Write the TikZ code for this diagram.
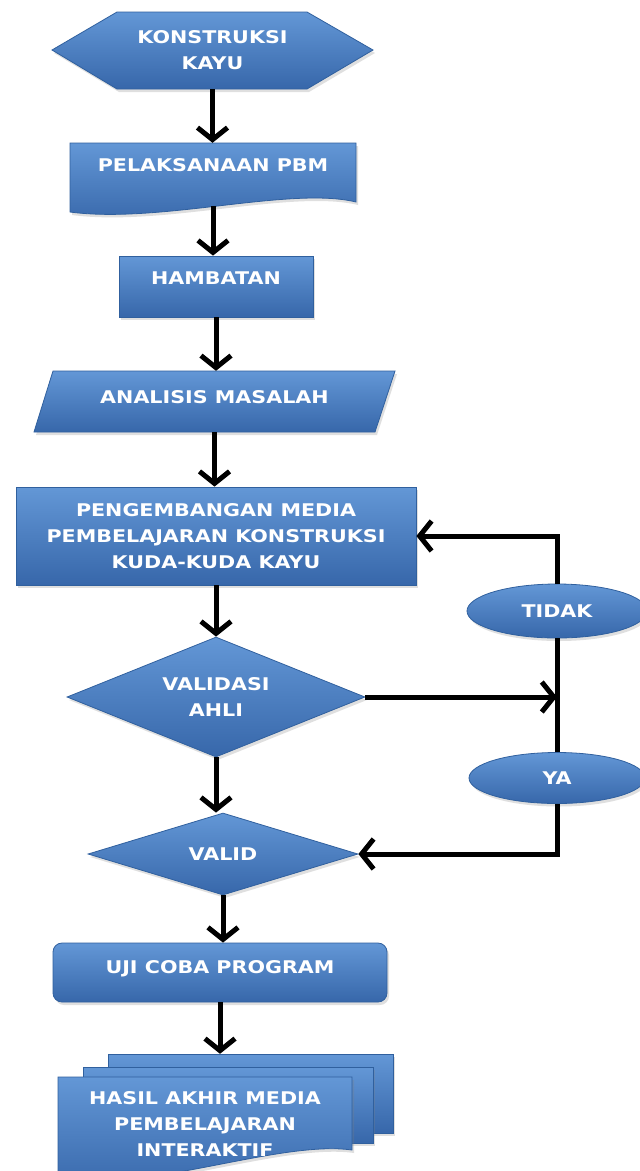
\documentclass[tikz,border=0pt]{standalone}
\usepackage{fontspec}
\newfontfamily\lblfont[FakeStretch=1.18]{DejaVu Sans}
\usetikzlibrary{arrows.meta,shapes.geometric,shadows}
\definecolor{blokatas}{HTML}{6397D6}
\definecolor{blokbawah}{HTML}{3767AA}
\definecolor{bloktepi}{HTML}{30609E}

\begin{document}
\begin{tikzpicture}[x=1pt,y=-1pt,
    blok/.style={top color=blokatas, bottom color=blokbawah, draw=bloktepi, line width=0.8pt,
      drop shadow={opacity=0.25,shadow xshift=2pt,shadow yshift=-3pt}},
    teks/.style={text=white, font=\lblfont\bfseries\fontsize{17.5}{26}\selectfont, align=center, inner sep=0pt},
    kotak/.style={rectangle, teks},
    panah/.style={line width=5pt, -{Straight Barb[length=12pt,width=30pt]}},
    garis/.style={line width=5pt}]

\useasboundingbox (0,0) rectangle (640,1171);
\fill[white] (0,0) rectangle (640,1171);
\clip (0,0) rectangle (640,1171);

% bentuk
\path[blok] (52,50) -- (117,12) -- (307,12) -- (373,50) -- (307,89) -- (117,89) -- cycle;
\node[kotak, minimum width=321pt, minimum height=77pt] (mulai) at (212.5,50.5) {KONSTRUKSI\\KAYU};

\path[blok] (70,143) -- (356,143) -- (356,202) .. controls (290,186) and (160,224) .. (70,212) -- cycle;
\node[kotak, minimum width=286pt, text height=28pt, text depth=35pt] (pbm) at (213,174.5) {PELAKSANAAN PBM};

\node[kotak, blok, minimum width=194pt, text height=28pt, text depth=33pt] (hmb) at (216,286.5) {HAMBATAN};

\path[blok] (53,371) -- (395,371) -- (375,432) -- (34,432) -- cycle;
\node[kotak, minimum width=340pt, text height=32.5pt, text depth=28.5pt] (ana) at (214.5,401.5) {ANALISIS MASALAH};

\node[kotak, blok, minimum width=400pt, minimum height=98pt] (kembang) at (216,536) {PENGEMBANGAN MEDIA\\PEMBELAJARAN KONSTRUKSI\\KUDA-KUDA KAYU};

\node[teks, blok, diamond, shape aspect=2.5, minimum width=298pt, minimum height=120pt] (ahli) at (216,697) {VALIDASI\\AHLI};
\node[teks, blok, diamond, shape aspect=3, minimum width=270pt, minimum height=82pt] (valid) at (223,854) {VALID};

\node[teks, blok, ellipse, minimum width=180pt, minimum height=54pt] (tidak) at (557,611) {TIDAK};
\node[teks, blok, ellipse, minimum width=176pt, minimum height=51pt] (ya) at (557,778) {YA};

\node[teks, blok, rounded corners=9pt, minimum width=334pt, text height=30.5pt, text depth=28.5pt] (uji) at (220,972.5) {UJI COBA PROGRAM};

\path[blok] (108,1054) -- (393,1054) -- (393,1133) -- (108,1133) -- cycle;
\path[blok] (83,1067) -- (373,1067) -- (373,1143) -- (83,1143) -- cycle;
\path[blok] (58,1077) -- (352,1077) -- (352,1150) .. controls (280,1140) and (150,1192) .. (58,1180) -- cycle;
\node[kotak, minimum width=294pt, minimum height=140pt] (hasil) at (205,1124) {HASIL AKHIR MEDIA\\PEMBELAJARAN\\INTERAKTIF};

% panah
\draw[panah] (mulai.south) -- (mulai.south |- pbm.north);
\draw[panah] (pbm.south) -- (pbm.south |- hmb.north);
\draw[panah] (hmb.south) -- (hmb.south |- ana.north);
\draw[panah] (ana.south) -- (ana.south |- kembang.north);
\draw[panah] (kembang.south) -- (kembang.south |- ahli.north);
\draw[panah] (ahli.south) -- (ahli.south |- valid.north);
\draw[panah] (valid.south) -- (valid.south |- uji.north);
\draw[panah] (uji.south) -- (uji.south |- hasil.north);
\draw[panah] (tidak.north) |- (kembang.east);
\draw[garis] (tidak.south) -- (ya.north);
\draw[panah] (ahli.east) -- (ahli.east -| tidak.south);
\draw[panah] (ya.south) |- (valid.east);
\end{tikzpicture}
\end{document}
